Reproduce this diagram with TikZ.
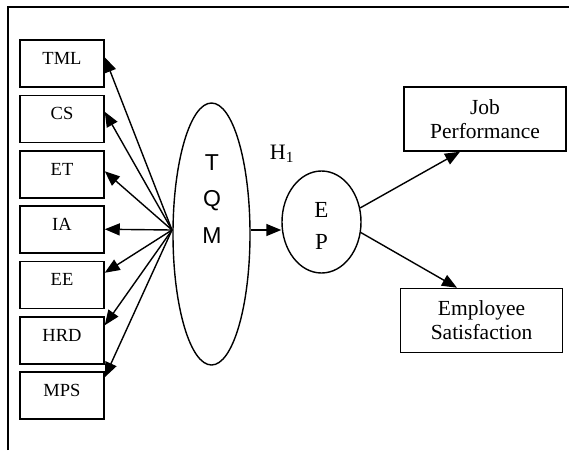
\documentclass[tikz,border=0pt]{standalone}
\usepackage{fontspec}
\setmainfont{Liberation Serif}
\newfontfamily\arialfont{Liberation Sans}
\usetikzlibrary{shapes.geometric,arrows.meta,calc}
\begin{document}
\begin{tikzpicture}[x=1pt,y=-1pt,
  lbox/.style={draw, line width=1.5pt, inner sep=0pt, minimum width=84pt,
    text height=24pt, text depth=23pt, font=\fontsize{18.5}{20}\selectfont},
  rbox/.style={draw, line width=1.5pt, inner sep=0pt, minimum width=162pt,
    minimum height=64pt, align=center, font=\fontsize{21.5}{24}\selectfont},
  oval/.style={draw, ellipse, line width=1.4pt, inner sep=0pt},
  arr/.style={line width=1.4pt, -{Triangle[length=15pt,width=12pt]}},
  frame/.style={line width=1.8pt}]
\useasboundingbox (0,0) rectangle (569,450);
\draw[frame] (8,450) -- (8,7) -- (569,7);
% left boxes
\node[lbox] (tml) at (62,63.5) {TML};
\node[lbox] (cs)  at (62,119) {CS};
\node[lbox] (et)  at (62,174.5) {ET};
\node[lbox] (ia)  at (62,229.5) {IA};
\node[lbox] (ee)  at (62,285) {EE};
\node[lbox] (hrd) at (62,340.5) {HRD};
\node[lbox] (mps) at (62,395.5) {MPS};
% ellipses
\node[oval, minimum width=77pt, minimum height=262pt] (tqm) at (211.5,234) {};
\node[align=center, font=\arialfont\fontsize{23}{36.5}\selectfont] (tqmtext) at (212,199) {T\\Q\\M};
\node[oval, minimum width=79pt, minimum height=102pt] (ep) at (321.5,222) {};
\node[align=center, font=\fontsize{23}{32}\selectfont] (eptext) at (321.5,226) {E\\P};
\node[font=\fontsize{22}{26}\selectfont] (h1) at (282,154) {H\textsubscript{1}};
% right boxes
\node[rbox] (job) at (485,119) {Job\\Performance};
\node[rbox] (emp) at (481.5,320.5) {Employee\\Satisfaction};
% connectors
\coordinate (hub) at (172,230);
\draw[arr] (hub) -- ($(tml.north east)+(0,18)$);
\draw[arr] (hub) -- ($(cs.north east)+(0,17)$);
\draw[arr] (hub) -- ($(et.north east)+(0,21)$);
\draw[arr] (hub) -- ($(ia.north east)+(0,24)$);
\draw[arr] (hub) -- ($(ee.north east)+(0,12)$);
\draw[arr] (hub) -- ($(hrd.north east)+(0,9)$);
\draw[arr] (hub) -- ($(mps.north east)+(0,6)$);
\draw[arr] (tqm.east |- hub) -- (ep.west |- hub);
\draw[arr] (ep.20) -- ($(job.south)+(-25,0)$);
\draw[arr] (ep.-15) -- ($(emp.north)+(-24.5,0)$);
\end{tikzpicture}
\end{document}
